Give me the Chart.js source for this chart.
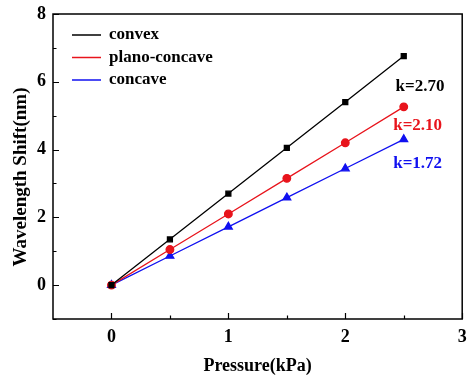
<!DOCTYPE html>
<html>
<head>
<meta charset="utf-8">
<script src="https://cdn.jsdelivr.net/npm/chart.js@4"></script>
<style>
  html, body { margin: 0; padding: 0; background: #fff; }
  #wrap { width: 468px; height: 377px; }
</style>
</head>
<body>
<div id="wrap"><canvas id="c" width="468" height="377"></canvas></div>
<script>
// data
const pressure = [0, 0.5, 1, 1.5, 2, 2.5];
const convex = [0, 1.35, 2.70, 4.05, 5.40, 6.76];
const planoConcave = [0, 1.05, 2.10, 3.15, 4.20, 5.26];
const concave = [0, 0.86, 1.72, 2.58, 3.44, 4.30];
const xTicks = [0, 1, 2, 3];
const yTicks = [0, 2, 4, 6, 8];
const slopes = ['k=2.70', 'k=2.10', 'k=1.72'];

const FONT = "'Liberation Serif', 'Times New Roman', serif";
const colors = ['#000000', '#e8141c', '#1010f0'];
const names = ['convex', 'plano-concave', 'concave'];

const toXY = ys => pressure.map((x, i) => ({ x: x, y: ys[i] }));

// frame, inward ticks, legend, y title and slope labels
const decor = {
  id: 'decor',
  afterDraw(chart) {
    const { ctx, chartArea: a, scales: { x, y } } = chart;
    ctx.save();
    ctx.strokeStyle = '#000';
    ctx.lineWidth = 1.5;
    ctx.strokeRect(a.left, a.top, a.right - a.left, a.bottom - a.top);

    ctx.lineWidth = 1.2;
    ctx.beginPath();
    for (let v = 0; v <= 3.001; v += 0.5) {
      const px = Math.round(x.getPixelForValue(v)) + 0.5;
      const len = (Math.abs(v % 1) < 1e-6) ? 6 : 3.5;
      ctx.moveTo(px, a.bottom); ctx.lineTo(px, a.bottom - len);
    }
    for (let v = -1; v <= 8.001; v += 1) {
      const py = Math.round(y.getPixelForValue(v)) + 0.5;
      const len = (v % 2 === 0) ? 6 : 3.5;
      ctx.moveTo(a.left, py); ctx.lineTo(a.left + len, py);
    }
    ctx.stroke();

    // legend
    ctx.font = 'bold 17px ' + FONT;
    ctx.textBaseline = 'middle';
    names.forEach((n, i) => {
      const yy = 35 + i * 22.5;
      ctx.strokeStyle = colors[i];
      ctx.lineWidth = 1.5;
      ctx.beginPath();
      ctx.moveTo(72, yy); ctx.lineTo(101, yy);
      ctx.stroke();
      ctx.fillStyle = '#000';
      ctx.fillText(n, 109, yy);
    });

    // slope labels
    const lab = [[2.43, 5.85], [2.41, 4.70], [2.41, 3.60]];
    ctx.textAlign = 'left';
    slopes.forEach((s, i) => {
      ctx.fillStyle = colors[i];
      ctx.fillText(s, x.getPixelForValue(lab[i][0]), y.getPixelForValue(lab[i][1]));
    });

    // y axis title (sits a bit below the plot centre in the original)
    ctx.fillStyle = '#000';
    ctx.font = 'bold 19px ' + FONT;
    ctx.textAlign = 'center';
    ctx.translate(21, 177);
    ctx.rotate(-Math.PI / 2);
    ctx.fillText('Wavelength Shift(nm)', 0, 0);
    ctx.restore();
  }
};

const ds = (label, data, i, style, r) => ({
  label: label,
  data: toXY(data),
  showLine: true,
  borderColor: colors[i],
  backgroundColor: colors[i],
  borderWidth: 1.3,
  pointStyle: style,
  pointRadius: r,
  pointHoverRadius: r
});

new Chart(document.getElementById('c'), {
  type: 'scatter',
  data: {
    datasets: [
      ds('convex', convex, 0, 'rect', 3.5),
      ds('plano-concave', planoConcave, 1, 'circle', 3.8),
      ds('concave', concave, 2, 'triangle', 4.5)
    ]
  },
  options: {
    responsive: false,
    animation: false,
    layout: { padding: { top: 14, right: 4, left: 0, bottom: 0 } },
    plugins: { legend: { display: false }, tooltip: { enabled: false } },
    scales: {
      x: {
        type: 'linear', min: -0.5, max: 3,
        afterBuildTicks: s => { s.ticks = xTicks.map(v => ({ value: v })); },
        grid: { display: false, drawTicks: false },
        border: { display: false },
        ticks: { color: '#000', padding: 8, font: { family: FONT, size: 18, weight: 'bold' } },
        title: { display: true, text: 'Pressure(kPa)', color: '#000', padding: { top: 10, bottom: 0 },
                 font: { family: FONT, size: 18, weight: 'bold' } },
        afterFit: s => { s.height = 58; s.paddingLeft = 0; s.paddingRight = 0; }
      },
      y: {
        type: 'linear', min: -1, max: 8,
        afterBuildTicks: s => { s.ticks = yTicks.map(v => ({ value: v })); },
        grid: { display: false, drawTicks: false },
        border: { display: false },
        ticks: { color: '#000', padding: 7, font: { family: FONT, size: 18, weight: 'bold' } },
        title: { display: false },
        afterFit: s => { s.width = 53; s.paddingTop = 0; s.paddingBottom = 0; }
      }
    }
  },
  plugins: [decor]
});
</script>
</body>
</html>
